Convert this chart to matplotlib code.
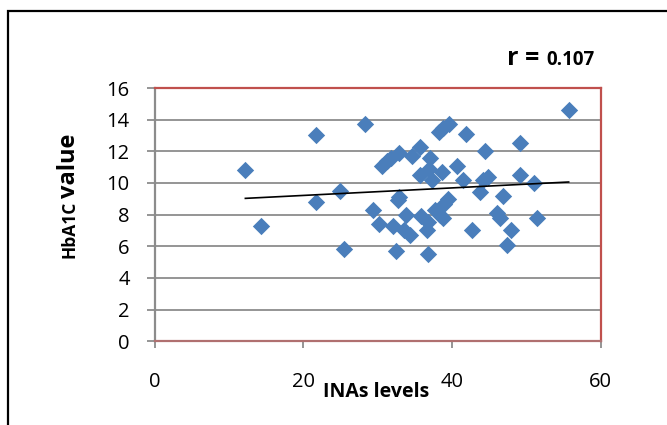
import numpy as np
import matplotlib.pyplot as plt
from matplotlib.patches import Rectangle

# INAs levels vs HbA1C value
inas = [12.2, 14.3, 21.7, 21.7, 24.9, 25.5, 28.3, 29.4, 30.2, 30.6,
        31.2, 31.8, 32.0, 32.5, 32.8, 32.9, 32.9, 33.5, 33.8, 34.3,
        34.6, 35.7, 35.7, 35.9, 36.6, 36.8, 36.8, 36.9, 37.05, 37.3,
        37.7, 38.2, 38.4, 38.6, 38.8, 38.8, 38.9, 39.5, 39.6, 40.7,
        41.5, 41.9, 42.7, 43.8, 44.2, 44.5, 44.8, 46.0, 46.4, 46.8,
        47.4, 47.95, 49.1, 49.2, 51.0, 51.4, 55.7]
hba1c = [10.8, 7.3, 13.0, 8.8, 9.5, 5.8, 13.7, 8.3, 7.4, 11.1,
         11.4, 11.6, 7.3, 5.7, 8.9, 9.1, 11.9, 7.0, 8.0, 6.7,
         11.7, 12.3, 10.5, 7.9, 7.0, 7.55, 5.5, 10.9, 11.6, 10.2,
         8.3, 13.2, 8.0, 10.7, 13.45, 7.8, 8.7, 9.0, 13.75, 11.1,
         10.2, 13.1, 7.0, 9.4, 10.2, 12.0, 10.35, 8.1, 7.8, 9.2,
         6.1, 7.0, 12.5, 10.5, 10.0, 7.8, 14.6]
x_ticks = [0, 20, 40, 60]
y_ticks = [0, 2, 4, 6, 8, 10, 12, 14, 16]

plt.rcParams['font.family'] = ['Open Sans', 'DejaVu Sans']

W, H = 667, 425
fig = plt.figure(figsize=(W / 100, H / 100), dpi=100)
ax = fig.add_axes([154.7 / W, 1 - 341.3 / H, (600.6 - 154.7) / W, (341.3 - 88) / H])

# outer chart border (only left/top visible)
fig.patches.append(Rectangle((7.5 / W, -0.2), 1.2, 1.2 - 10.5 / H, transform=fig.transFigure,
                             fill=False, edgecolor='black', linewidth=1.6))

ax.grid(axis='y', color='#8c8c8c', linewidth=1.3)
ax.set_axisbelow(True)

ax.scatter(inas, hba1c, marker='D', s=78, color='#4a7ebb', zorder=3, linewidths=0)

# linear trend line
k, b = np.polyfit(inas, hba1c, 1)
xs = np.array([min(inas), max(inas)])
ax.plot(xs, k * xs + b, color='black', linewidth=1.2, zorder=4)

ax.set_xlim(0, 60)
ax.set_ylim(0, 16)
ax.set_xticks(x_ticks)
ax.set_yticks(y_ticks)

for s in ['top', 'right']:
    ax.spines[s].set_color('#c0504d')
    ax.spines[s].set_linewidth(1.6)
ax.spines['left'].set_color('#8c8c8c')
ax.spines['bottom'].set_color('#b07070')
ax.spines['left'].set_linewidth(1.6)
ax.spines['bottom'].set_linewidth(1.6)

ax.tick_params(axis='y', direction='out', length=6, width=1.3, color='#8c8c8c',
               labelsize=14.5, pad=12)
ax.tick_params(axis='x', direction='out', length=5, width=1.3, color='#8c8c8c',
               labelsize=14.5, pad=17)

ax.set_xlabel('INAs levels', fontsize=14, fontweight='bold', va='center')
ax.xaxis.set_label_coords(0.497, (341.3 - 392) / 253.3)

fig.text(75 / W, 1 - 258 / H, 'HbA1C', rotation=90, rotation_mode='anchor', fontsize=12.5,
         fontweight='bold', ha='left', va='baseline')
fig.text(75 / W, 1 - 198 / H, 'value', rotation=90, rotation_mode='anchor', fontsize=17,
         fontweight='bold', ha='left', va='baseline')

fig.text(507 / W, 1 - 65 / H, 'r =', fontsize=18, fontweight='bold', ha='left', va='baseline')
fig.text(546 / W, 1 - 65 / H, '0.107', fontsize=13.5, fontweight='bold', ha='left', va='baseline')

fig.savefig('out.png', dpi=100)
